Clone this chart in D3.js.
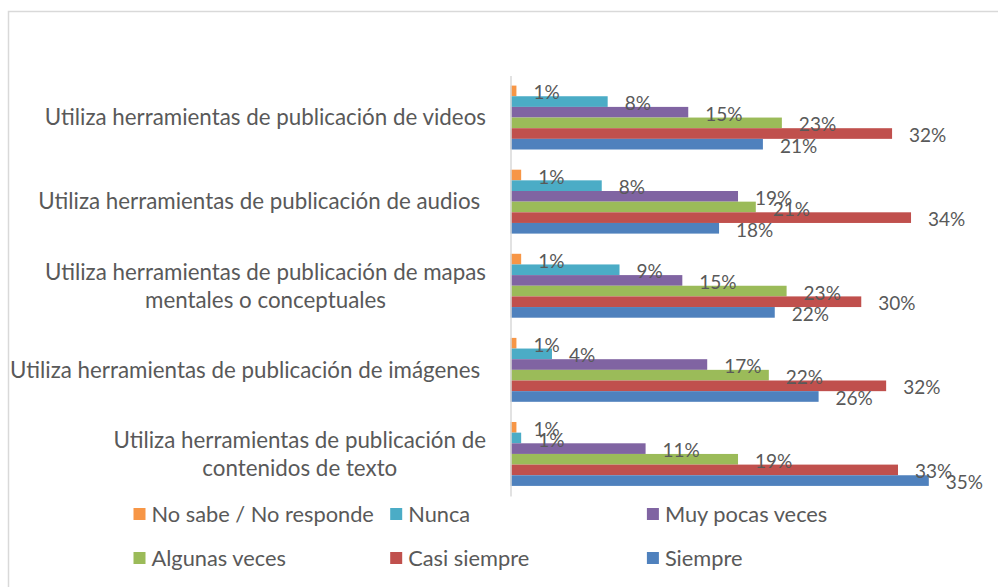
<!DOCTYPE html>
<html>
<head>
<meta charset="utf-8">
<script src="https://cdn.jsdelivr.net/npm/d3@7"></script>
<style>
  html, body { margin: 0; padding: 0; background: #fff; }
  svg { display: block; }
  text { font-family: Lato, "Noto Sans", sans-serif; fill: #595959; white-space: pre; }
</style>
</head>
<body>
<svg id="chart" width="998" height="587"></svg>
<script>
// categories, top to bottom (lines of each axis label)
const categories = [
  ['Utiliza herramientas de publicación de videos'],
  ['Utiliza herramientas de publicación de audios '],
  ['Utiliza herramientas de publicación de mapas', 'mentales o conceptuales'],
  ['Utiliza herramientas de publicación de imágenes '],
  ['Utiliza herramientas de publicación de', 'contenidos de texto']
]
const series = ['No sabe / No responde', 'Nunca', 'Muy pocas veces', 'Algunas veces', 'Casi siempre', 'Siempre']
const colors = ['#F79646', '#4BACC6', '#8064A2', '#9BBB59', '#C0504D', '#4F81BD']

// percentages per series, one value per category (same order as categories)
const noSabe      = [0.5, 0.9, 0.9, 0.5, 0.5]
const nunca       = [8.2, 7.7, 9.2, 3.5, 0.9]
const muyPocas    = [15.0, 19.2, 14.5, 16.6, 11.4]
const algunas     = [22.9, 20.7, 23.3, 21.8, 19.2]
const casiSiempre = [32.2, 33.8, 29.6, 31.7, 32.7]
const siempre     = [21.3, 17.6, 22.3, 26.0, 35.3]
const values = [noSabe, nunca, muyPocas, algunas, casiSiempre, siempre]

const svg = d3.select('#chart')

// outer chart border
svg.append('rect')
  .attr('x', 8.5).attr('y', 11.5)
  .attr('width', 1100).attr('height', 700)
  .attr('fill', 'none')
  .attr('stroke', '#d9d9d9')
  .attr('stroke-width', 1.5)

const plot = { left: 510.5, top: 75.5, bottom: 496 }

const x = d3.scaleLinear()
  .domain([0, 40])
  .range([plot.left, plot.left + 40 * 11.85])

const catKeys = categories.map((c, i) => i)
const y = d3.scaleBand()
  .domain(catKeys)
  .range([plot.top, plot.bottom])
  .paddingInner(0.24)
  .paddingOuter(0.12)

const ySub = d3.scaleBand()
  .domain(series.map((s, i) => i))
  .range([0, y.bandwidth()])

const rows = []
catKeys.forEach(c => {
  series.forEach((s, si) => rows.push({ c, si, v: values[si][c] }))
})

// bars
svg.append('g')
  .selectAll('rect')
  .data(rows)
  .join('rect')
    .attr('x', x(0))
    .attr('y', d => y(d.c) + ySub(d.si))
    .attr('width', d => x(d.v) - x(0))
    .attr('height', ySub.bandwidth())
    .attr('fill', d => colors[d.si])

// data labels
svg.append('g')
  .selectAll('text')
  .data(rows)
  .join('text')
    .attr('transform', d => `translate(${x(d.v) + 17},${y(d.c) + ySub(d.si) + ySub.bandwidth() / 2 + 1.5}) scale(1,1.06)`)
    .attr('dy', '0.35em')
    .attr('font-size', 19)
    .text(d => Math.round(d.v) + '%')

// category axis
const axis = d3.axisLeft(y).tickSize(0).tickFormat('')
const gAxis = svg.append('g')
  .attr('transform', `translate(${plot.left},0)`)
  .call(axis)
gAxis.select('.domain').attr('stroke', '#d9d9d9').attr('stroke-width', 1.5)

const catFont = 22.35
const lineH = 28
const labelRight = 486
catKeys.forEach(c => {
  const lines = categories[c]
  const cy = y(c) + y.bandwidth() / 2
  const t = svg.append('text')
    .attr('font-size', catFont)
    .attr('text-anchor', lines.length > 1 ? 'middle' : 'end')
  if (lines.length === 1) {
    t.attr('x', labelRight).attr('y', cy).attr('dy', '0.35em').text(lines[0])
  } else {
    // wrapped labels are centred under the first line
    const tmp = svg.append('text').attr('font-size', catFont).text(lines[0])
    const w = tmp.node().getComputedTextLength()
    tmp.remove()
    const cx = labelRight - w / 2
    lines.forEach((ln, li) => {
      t.append('tspan')
        .attr('x', cx)
        .attr('y', cy + (li - (lines.length - 1) / 2) * lineH)
        .attr('dy', '0.35em')
        .text(ln)
    })
  }
})

// legend, 3 columns x 2 rows
const legend = svg.append('g')
series.forEach((s, i) => {
  const lx = 133.5 + (i % 3) * 256.7
  const ly = 514 + Math.floor(i / 3) * 44
  legend.append('rect')
    .attr('x', lx).attr('y', ly - 6)
    .attr('width', 12).attr('height', 12)
    .attr('fill', colors[i])
  legend.append('text')
    .attr('x', lx + 18).attr('y', ly)
    .attr('dy', '0.35em')
    .attr('font-size', 21.8)
    .text(s)
})
</script>
</body>
</html>
